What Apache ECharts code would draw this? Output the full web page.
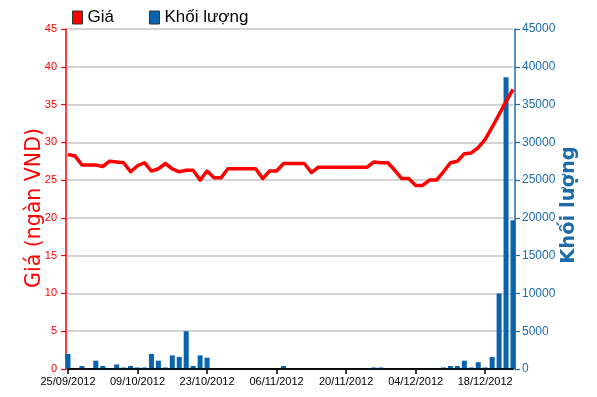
<!DOCTYPE html>
<html>
<head>
<meta charset="utf-8">
<script src="https://cdn.jsdelivr.net/npm/echarts@6/dist/echarts.min.js"></script>
<style>
html,body{margin:0;padding:0;background:#fff;}
#chart{width:597px;height:397px;}
</style>
</head>
<body>
<div id="chart"></div>
<script>
const dates = [
  '25/09/2012','26/09/2012','27/09/2012','28/09/2012','01/10/2012','02/10/2012','03/10/2012','04/10/2012','05/10/2012','08/10/2012',
  '09/10/2012','10/10/2012','11/10/2012','12/10/2012','15/10/2012','16/10/2012','17/10/2012','18/10/2012','19/10/2012','22/10/2012',
  '23/10/2012','24/10/2012','25/10/2012','26/10/2012','29/10/2012','30/10/2012','31/10/2012','01/11/2012','02/11/2012','05/11/2012',
  '06/11/2012','07/11/2012','08/11/2012','09/11/2012','12/11/2012','13/11/2012','14/11/2012','15/11/2012','16/11/2012','19/11/2012',
  '20/11/2012','21/11/2012','22/11/2012','23/11/2012','26/11/2012','27/11/2012','28/11/2012','29/11/2012','30/11/2012','03/12/2012',
  '04/12/2012','05/12/2012','06/12/2012','07/12/2012','10/12/2012','11/12/2012','12/12/2012','13/12/2012','14/12/2012','17/12/2012',
  '18/12/2012','19/12/2012','20/12/2012','21/12/2012','24/12/2012'
];
const price = [
  28.4,28.2,27.0,27.0,27.0,26.8,27.5,27.4,27.3,26.1,
  26.9,27.3,26.2,26.5,27.2,26.5,26.1,26.3,26.3,25.0,
  26.2,25.3,25.3,26.5,26.5,26.5,26.5,26.5,25.2,26.2,
  26.2,27.2,27.2,27.2,27.2,26.0,26.7,26.7,26.7,26.7,
  26.7,26.7,26.7,26.7,27.4,27.3,27.3,26.3,25.2,25.2,
  24.3,24.3,25.0,25.0,26.1,27.3,27.5,28.5,28.6,29.3,
  30.4,32.0,33.7,35.4,37.0
];
const volume = [
  2000,0,400,0,1100,400,0,600,200,400,
  200,200,2000,1100,200,1800,1600,5000,400,1800,
  1500,0,0,0,0,0,0,0,0,0,
  0,400,0,0,0,0,0,0,0,0,
  0,0,0,0,200,200,0,0,0,0,
  0,0,0,0,200,400,400,1100,200,900,
  200,1600,10000,38600,19700
];
const seriesNames = ['Giá','Khối lượng'];
const leftAxisName = 'Giá (ngàn VND)';
const rightAxisName = 'Khối lượng';
const labelEvery = 10;

const SANS = "'Liberation Sans',Arial,sans-serif";
const RED = '#ff0000';
const BLUE = '#0a64ad';
const BLUE_TXT = '#1d6ba8';

const isMajor = function(i){ return i % labelEvery === 0; };

const chart = echarts.init(document.getElementById('chart'), null, {renderer:'canvas'});
chart.setOption({
  animation:false,
  backgroundColor:'#ffffff',
  legend:{
    left:67, top:4,
    itemWidth:10, itemHeight:13, itemGap:35,
    textStyle:{fontFamily:SANS, fontSize:17, color:'#000'},
    data:[
      {name:seriesNames[0], icon:'rect', itemStyle:{color:RED, borderColor:'#333', borderWidth:1}},
      {name:seriesNames[1], icon:'rect', itemStyle:{color:BLUE, borderColor:'#333', borderWidth:1}}
    ]
  },
  grid:{left:68, right:84, top:29, bottom:28, outerBoundsMode:'none', containLabel:false},
  xAxis:[{
    type:'category', data:dates, boundaryGap:false,
    axisLine:{lineStyle:{color:'#000', width:1.5}},
    axisTick:{interval:isMajor, length:5, lineStyle:{color:'#000', width:1.5}},
    axisLabel:{interval:isMajor, margin:7, color:'#000', fontFamily:SANS, fontSize:11, hideOverlap:false,
      formatter:function(v, i){ return isMajor(i) ? v : ''; }},
    splitLine:{show:false}
  },{
    type:'category', data:dates, boundaryGap:false, position:'top',
    axisLine:{lineStyle:{color:'#000', width:1.5}},
    axisTick:{show:false}, axisLabel:{show:false}, splitLine:{show:false}, z:10
  }],
  yAxis:[{
    type:'value', min:0, max:45, interval:5, position:'left', offset:2,
    name:leftAxisName, nameLocation:'middle', nameRotate:90, nameGap:21, nameMoveOverlap:false,
    nameTextStyle:{color:RED, fontFamily:'DejaVu Sans', fontSize:20.5, padding:[0,18,0,0]},
    axisLine:{show:true, lineStyle:{color:RED, width:1.5}},
    axisTick:{show:true, length:5, lineStyle:{color:RED, width:1.2}},
    axisLabel:{color:RED, fontFamily:SANS, fontSize:11, margin:9},
    splitLine:{show:true, lineStyle:{color:'#c4c4c4', width:1.5}}
  },{
    type:'value', min:0, max:45000, interval:5000, position:'right', offset:2,
    name:rightAxisName, nameLocation:'middle', nameRotate:90, nameGap:44, nameMoveOverlap:false,
    nameTextStyle:{color:BLUE_TXT, fontFamily:'DejaVu Sans', fontSize:19.5, fontWeight:'bold', padding:[0,12,0,0]},
    axisLine:{show:true, lineStyle:{color:BLUE_TXT, width:1.5}},
    axisTick:{show:true, length:5, lineStyle:{color:BLUE_TXT, width:1.2}},
    axisLabel:{color:BLUE_TXT, fontFamily:SANS, fontSize:12, margin:7, formatter:function(v){return String(v);}},
    splitLine:{show:false}
  }],
  series:[{
    name:seriesNames[1], type:'bar', xAxisIndex:0, yAxisIndex:1,
    data:volume, barWidth:5, clip:false,
    itemStyle:{color:BLUE}, z:2
  },{
    name:seriesNames[0], type:'line', xAxisIndex:0, yAxisIndex:0,
    data:price, symbol:'none', clip:false,
    lineStyle:{color:RED, width:3.5, join:'round'},
    itemStyle:{color:RED}, z:5
  }]
});
</script>
</body>
</html>
